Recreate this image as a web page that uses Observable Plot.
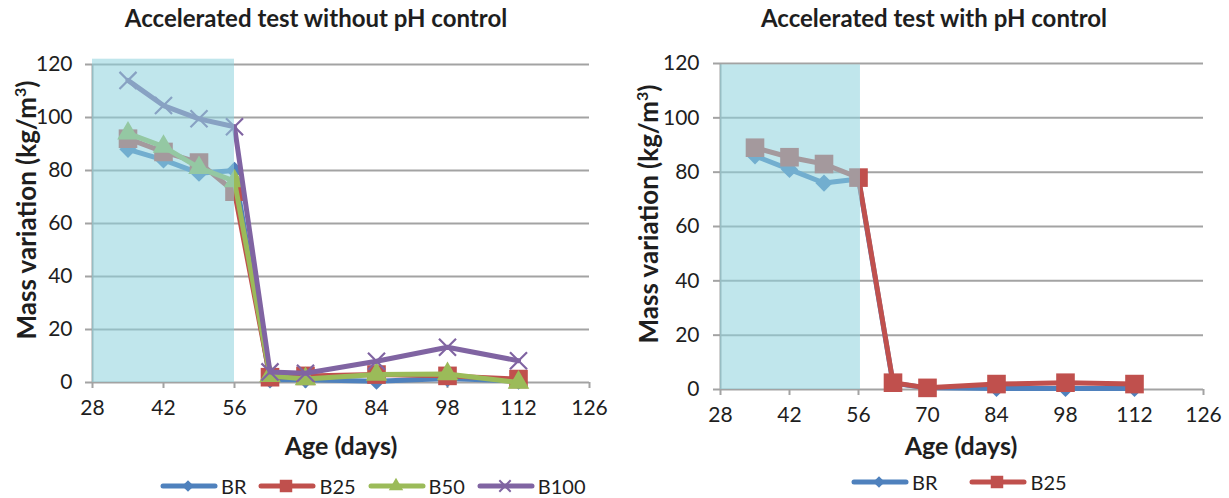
<!DOCTYPE html>
<html><head><meta charset="utf-8">
<script src="https://cdn.jsdelivr.net/npm/d3@7"></script>
<script src="https://cdn.jsdelivr.net/npm/@observablehq/plot@0.6"></script>
<style>
body{margin:0;background:#fff;font-family:Lato,"Open Sans",sans-serif;color:#1e1e1e;}
#wrap{position:relative;width:1229px;height:498px;overflow:hidden;}
#wrap svg.plot{position:absolute;top:0;}
.title{position:absolute;top:3px;font-weight:bold;font-size:24px;white-space:nowrap;transform:translateX(-50%);}
.xt{position:absolute;top:430px;font-weight:bold;font-size:25px;white-space:nowrap;transform:translateX(-50%);}
.yt{position:absolute;font-weight:bold;font-size:26px;white-space:nowrap;transform:translate(-50%,-50%) rotate(-90deg);}
.yt sup{font-size:16px;}
.leg{position:absolute;display:flex;align-items:center;font-size:20px;white-space:nowrap;}
.leg span.item{display:flex;align-items:center;margin-right:14px;}
.leg svg{margin-right:3px;}
</style></head>
<body><div id="wrap"></div>
<script>
// ---- data ----
const days = [35, 42, 49, 56, 63, 70, 84, 98, 112];
const leftBR   = [88, 84, 79, 80, 1, 1, 0.5, 1.5, 0.5];
const leftB25  = [92, 87, 83, 72, 2, 2.5, 3, 2.5, 1.3];
const leftB50  = [94, 89, 81, 76, 2.5, 1.3, 3, 3.2, 0];
const leftB100 = [114, 104.5, 99.5, 96.5, 4, 3.5, 8, 13.3, 8.2];
const rightBR  = [86, 81, 76, 77.5, 2.3, 0.6, 0.4, 0.4, 0.4];
const rightB25 = [89, 85.5, 83, 78, 2.5, 0.6, 2, 2.5, 2];
const xTicks = [28, 42, 56, 70, 84, 98, 112, 126];
const yTicks = [0, 20, 40, 60, 80, 100, 120];
const shadeLeft  = [{x1: 28, x2: 56, y1: 0, y2: 122}];
const shadeRight = [{x1: 28, x2: 56.4, y1: 0, y2: 119.5}];

const seriesStyle = {
  BR:   {color: "#4F81BD", symbol: "diamond2", r: 7.8, kind: "fill"},
  B25:  {color: "#C0504D", symbol: "square", r: 10.5, kind: "fill"},
  B50:  {color: "#9BBB59", symbol: "triangle", r: 8, kind: "fill"},
  B100: {color: "#8064A2", symbol: "times", r: 7.8, kind: "stroke"}
};
const GRID = "#a3a3a3";

function rows(vals){ return days.map((d,i)=>({day:d, v:vals[i]})); }

function chart(series, shade, o){
  const marks = [
    Plot.ruleY(yTicks, {x1: 28, x2: 126, stroke: GRID, strokeWidth: 2}),
    Plot.ruleX([28], {y1: 0, y2: 120, stroke: GRID, strokeWidth: 2}),
    Plot.axisY({ticks: yTicks, tickSize: 7, tickPadding: o.yPad, stroke: GRID, strokeWidth: 2, fill: "#1e1e1e", label: null, fontSize: 21}),
    Plot.axisX({ticks: xTicks, tickSize: 6, tickPadding: 12, stroke: GRID, strokeWidth: 2, fill: "#1e1e1e", label: null, fontSize: 21})
  ];
  for (const [name, vals] of series){
    const s = seriesStyle[name];
    const data = rows(vals);
    marks.push(Plot.line(data, {x: "day", y: "v", stroke: s.color, strokeWidth: 5, strokeLinejoin: "round", strokeLinecap: "round"}));
    if (s.kind === "fill") marks.push(Plot.dot(data, {x: "day", y: "v", symbol: s.symbol, r: s.r, fill: s.color, stroke: "none"}));
    else marks.push(Plot.dot(data, {x: "day", y: "v", symbol: s.symbol, r: s.r, stroke: s.color, strokeWidth: 2.2, fill: "none"}));
  }
  marks.push(Plot.rect(shade, {x1: "x1", x2: "x2", y1: "y1", y2: "y2", fill: "#8ED2DD", fillOpacity: 0.56}));
  const svg = Plot.plot({
    width: o.width, height: 498,
    marginLeft: o.ml, marginRight: o.mr, marginTop: o.mt, marginBottom: o.mb,
    x: {domain: [28, 126]},
    y: {domain: [0, 120]},
    style: {fontFamily: "Lato, sans-serif", fontSize: "21px", color: "#1e1e1e", background: "transparent", overflow: "visible"},
    marks
  });
  svg.classList.add("plot");
  svg.style.left = o.left + "px";
  return svg;
}

const wrap = document.getElementById("wrap");
wrap.appendChild(chart([["BR",leftBR],["B25",leftB25],["B50",leftB50],["B100",leftB100]], shadeLeft,
  {width: 614, left: 0, ml: 92, mr: 25, mt: 64, mb: 116, yPad: 13}));
wrap.appendChild(chart([["BR",rightBR],["B25",rightB25]], shadeRight,
  {width: 615, left: 614, ml: 106, mr: 26, mt: 63, mb: 109, yPad: 14}));

function addText(cls, html, style){
  const d = document.createElement("div"); d.className = cls; d.innerHTML = html;
  Object.assign(d.style, style); wrap.appendChild(d); return d;
}
addText("title", "Accelerated test without pH control", {left: "316px"});
addText("title", "Accelerated test with pH control", {left: "934px"});
addText("xt", "Age (days)", {left: "341px"});
addText("xt", "Age (days)", {left: "961px"});
addText("yt", "Mass variation (kg/m<sup>3</sup>)", {left: "26px", top: "210px"});
addText("yt", "Mass variation (kg/m<sup>3</sup>)", {left: "648px", top: "214px"});

function legendSwatch(name){
  const s = seriesStyle[name];
  const sym = {diamond2: d3.symbolDiamond2, square: d3.symbolSquare, triangle: d3.symbolTriangle, times: d3.symbolTimes}[s.symbol];
  const path = d3.symbol(sym, Math.PI * s.r * s.r * 0.45)();
  const mk = s.kind === "fill"
    ? `<path d="${path}" transform="translate(28,10)" fill="${s.color}"/>`
    : `<path d="${path}" transform="translate(28,10)" fill="none" stroke="${s.color}" stroke-width="2"/>`;
  return `<svg width="58" height="20"><line x1="3" x2="55" y1="10" y2="10" stroke="${s.color}" stroke-width="5" stroke-linecap="round"/>${mk}</svg>`;
}
function legend(names, left, top, gap){
  const d = document.createElement("div"); d.className = "leg";
  d.style.left = left + "px"; d.style.top = top + "px";
  d.innerHTML = names.map(n => `<span class="item" style="margin-right:${gap}px">${legendSwatch(n)}${n}</span>`).join("");
  wrap.appendChild(d);
}
legend(["BR","B25","B50","B100"], 160, 474, 12);
legend(["BR","B25"], 851, 470, 32);
</script></body></html>
